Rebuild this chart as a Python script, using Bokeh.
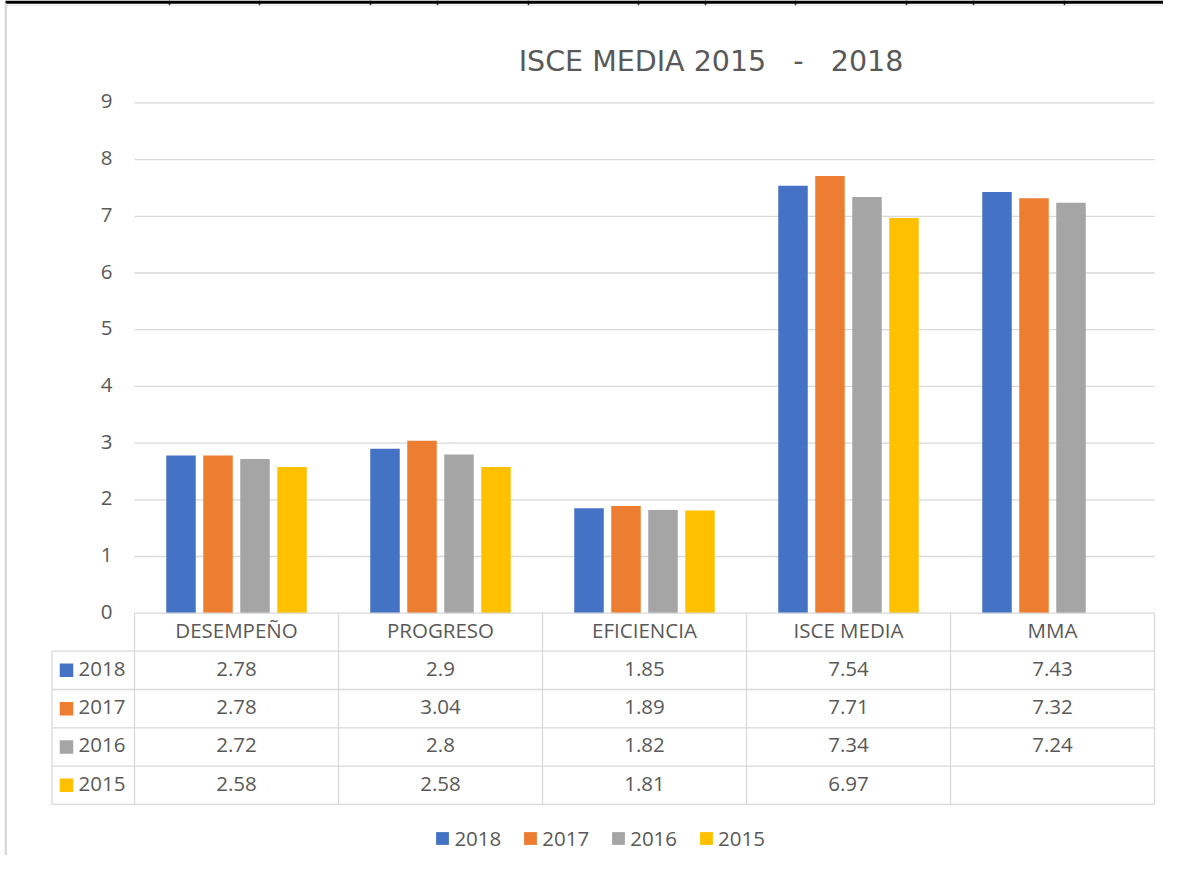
from bokeh.plotting import figure
from bokeh.models import Range1d, Legend, LegendItem, ColumnDataSource
from bokeh.core.properties import value
from bokeh.embed import file_html
from bokeh.resources import INLINE

# ---------------- data ----------------
categories = ["DESEMPEÑO", "PROGRESO", "EFICIENCIA", "ISCE MEDIA", "MMA"]
years = ["2018", "2017", "2016", "2015"]
v2018 = [2.78, 2.9, 1.85, 7.54, 7.43]
v2017 = [2.78, 3.04, 1.89, 7.71, 7.32]
v2016 = [2.72, 2.8, 1.82, 7.34, 7.24]
v2015 = [2.58, 2.58, 1.81, 6.97, None]
series = [v2018, v2017, v2016, v2015]
y_ticks = [0, 1, 2, 3, 4, 5, 6, 7, 8, 9]
title_text = "ISCE MEDIA 2015 \u00a0 - \u00a0 2018"

colors = ["#4472C4", "#ED7D31", "#A5A5A5", "#FFC000"]
TXT = "#595959"
GRID = "#D9D9D9"
FONT = "Open Sans"
FS = "20.5px"

# ---------------- geometry (page pixels) ----------------
W, H = 1163, 855
PX0, PX_PER = 134.0, 204.0      # x of first category edge, px per category
PY0, PY_PER = 612.7, 56.7       # y of value 0, px per unit


def dx(px):
    return (px - PX0) / PX_PER


def dy(py):
    return (PY0 - py) / PY_PER


p = figure(width=W, height=H, output_backend="svg", toolbar_location=None,
           x_range=Range1d(dx(0), dx(W)),
           y_range=Range1d(dy(H), dy(0)),
           x_axis_type=None, y_axis_type=None, min_border=0)
p.grid.visible = False
p.outline_line_color = None
p.background_fill_color = "white"
p.border_fill_color = "white"

# spreadsheet frame remnants (top border and left border of the chart object)
p.segment(x0=[dx(5)], y0=[dy(1.6)], x1=[dx(W)], y1=[dy(1.6)],
          line_color="black", line_width=3.3)
sheet_cols = [169, 259, 370, 437, 528, 638, 705, 795, 906, 973, 1064]
p.segment(x0=[dx(c) for c in sheet_cols], y0=[dy(0)] * len(sheet_cols),
          x1=[dx(c) for c in sheet_cols], y1=[dy(5)] * len(sheet_cols),
          line_color="black", line_width=1.5)
p.segment(x0=[dx(6)], y0=[dy(4.8)], x1=[dx(W)], y1=[dy(4.8)],
          line_color="#E6E6E6", line_width=1)
p.segment(x0=[dx(5.3)], y0=[dy(3)], x1=[dx(5.3)], y1=[dy(H)],
          line_color="#DADADA", line_width=2.5)

# gridlines
gt = [t for t in y_ticks if t > 0]
p.segment(x0=[0] * len(gt), y0=gt, x1=[len(categories)] * len(gt), y1=gt,
          line_color=GRID, line_width=1.3)

# y tick labels
p.text(x=[dx(112)] * len(y_ticks), y=y_ticks, text=[str(t) for t in y_ticks],
       text_font=value(FONT), text_font_size=value(FS), text_color=TXT,
       text_align="right", text_baseline="middle", y_offset=-1.5)

# bars
centers = [i + 0.5 for i in range(len(categories))]
step = 37.0 / PX_PER
bw = 29.5 / PX_PER
renderers = []
for k, vals in enumerate(series):
    off = (k - 1.5) * step
    src = ColumnDataSource(dict(
        x=[c + off for c in centers],
        top=[float("nan") if v is None else v for v in vals]))
    r = p.vbar(x="x", top="top", bottom=0, width=bw, source=src,
               fill_color=colors[k], line_color=None)
    renderers.append(r)

# data table
row_edges = [612.7, 650.7, 689.0, 727.3, 765.6, 803.9]
left_px = 51.5
hx0 = [0] + [dx(left_px)] * (len(row_edges) - 1)
hy = [dy(e) for e in row_edges]
p.segment(x0=hx0, y0=hy, x1=[len(categories)] * len(hy), y1=hy,
          line_color=GRID, line_width=1.3)
vx = list(range(len(categories) + 1)) + [dx(left_px)]
vy0 = [dy(row_edges[0])] * (len(categories) + 1) + [dy(row_edges[1])]
p.segment(x0=vx, y0=vy0, x1=vx, y1=[dy(row_edges[-1])] * len(vx),
          line_color=GRID, line_width=1.3)

# header texts
p.text(x=centers, y=[dy((row_edges[0] + row_edges[1]) / 2)] * len(categories),
       text=categories, text_font=value(FONT), text_font_size=value(FS),
       text_color=TXT, text_align="center", text_baseline="middle",
       y_offset=-2)

# rows
for k, vals in enumerate(series):
    yc = dy((row_edges[k + 1] + row_edges[k + 2]) / 2)
    p.scatter(x=[dx(66)], y=[yc], marker="square", size=13.5,
              fill_color=colors[k], line_color=None)
    p.text(x=[dx(78)], y=[yc], text=[years[k]], text_font=value(FONT),
           text_font_size=value(FS), text_color=TXT,
           text_align="left", text_baseline="middle", y_offset=-1.5)
    p.text(x=centers, y=[yc] * len(vals),
           text=["" if v is None else f"{v:g}" for v in vals],
           text_font=value(FONT), text_font_size=value(FS), text_color=TXT,
           text_align="center", text_baseline="middle", y_offset=-1.5)

# title
p.text(x=[dx(710.5)], y=[dy(61.7)], text=[title_text],
       text_font=value("DejaVu Sans"), text_font_size=value("28.5px"),
       text_color=TXT, text_align="center", text_baseline="middle",
       y_offset=-1)

# legend
legend = Legend(items=[LegendItem(label=years[k], renderers=[renderers[k]])
                       for k in range(len(years))],
                orientation="horizontal", location=(434.4, 3.5),
                glyph_width=16, glyph_height=16, label_standoff=4, spacing=21,
                padding=0, margin=0, border_line_color=None,
                background_fill_alpha=0,
                label_text_font=FONT, label_text_font_size=FS,
                label_text_color=TXT, label_height=20)
p.add_layout(legend)

open("out.html", "w").write(file_html(p, INLINE))
